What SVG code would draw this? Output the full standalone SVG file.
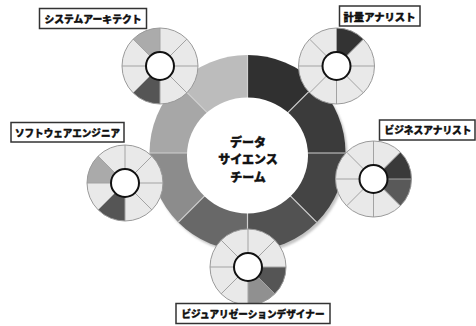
<svg xmlns="http://www.w3.org/2000/svg" xmlns:xlink="http://www.w3.org/1999/xlink" width="476" height="326" viewBox="0 0 476 326">
<style>
.lbl rect{fill:#fff;stroke:#333;stroke-width:1.5}
.lbl text{font-family:"Noto Sans CJK JP","Noto Sans",sans-serif;font-weight:900;font-size:10px;fill:#111;stroke:#111;stroke-width:0.35;text-anchor:middle}
.ctr{font-family:"Noto Sans CJK JP","Noto Sans",sans-serif;font-weight:900;font-size:12px;fill:#111;stroke:#111;stroke-width:0.4;text-anchor:middle}
.rdiv{stroke:#d0d0d0;stroke-width:1.2}
.sdiv{stroke:#a3a3a3;stroke-width:1}
</style>
<defs>
<filter id="blur" x="-10%" y="-10%" width="120%" height="120%"><feGaussianBlur stdDeviation="1.2"/></filter>
<circle id="sbase" r="38" fill="#e9e9e9"/>
<g id="sover">
<line class="sdiv" x1="0" y1="-38" x2="0" y2="38"/>
<line class="sdiv" x1="-38" y1="0" x2="38" y2="0"/>
<line class="sdiv" x1="-26.87" y1="-26.87" x2="26.87" y2="26.87"/>
<line class="sdiv" x1="26.87" y1="-26.87" x2="-26.87" y2="26.87"/>
<circle r="38" fill="none" stroke="#9a9a9a" stroke-width="1"/>
<circle r="14" fill="#fff" stroke="#111" stroke-width="2"/>
</g>
<path id="w0" d="M0,0 L0,-38 A38,38 0 0 1 26.87,-26.87Z"/>
<path id="w1" d="M0,0 L26.87,-26.87 A38,38 0 0 1 38,0Z"/>
<path id="w2" d="M0,0 L38,0 A38,38 0 0 1 26.87,26.87Z"/>
<path id="w3" d="M0,0 L26.87,26.87 A38,38 0 0 1 0,38Z"/>
<path id="w4" d="M0,0 L0,38 A38,38 0 0 1 -26.87,26.87Z"/>
<path id="w6" d="M0,0 L-38,0 A38,38 0 0 1 -26.87,-26.87Z"/>
<path id="w7" d="M0,0 L-26.87,-26.87 A38,38 0 0 1 0,-38Z"/>
</defs>

<g id="team">
<circle cx="249.5" cy="155.5" r="98" fill="#c4c4c4" filter="url(#blur)"/>
<path d="M247.5,153 L247.5,55 A98,98 0 0 1 316.8,83.7Z" fill="#303030"/>
<path d="M247.5,153 L316.8,83.7 A98,98 0 0 1 345.5,153Z" fill="#3b3b3b"/>
<path d="M247.5,153 L345.5,153 A98,98 0 0 1 316.8,222.3Z" fill="#444"/>
<path d="M247.5,153 L316.8,222.3 A98,98 0 0 1 247.5,251Z" fill="#525252"/>
<path d="M247.5,153 L247.5,251 A98,98 0 0 1 178.2,222.3Z" fill="#686868"/>
<path d="M247.5,153 L178.2,222.3 A98,98 0 0 1 149.5,153Z" fill="#8c8c8c"/>
<path d="M247.5,153 L149.5,153 A98,98 0 0 1 178.2,83.7Z" fill="#a7a7a7"/>
<path d="M247.5,153 L178.2,83.7 A98,98 0 0 1 247.5,55Z" fill="#bcbcbc"/>
<line class="rdiv" x1="247.5" y1="55" x2="247.5" y2="251"/>
<line class="rdiv" x1="149.5" y1="153" x2="345.5" y2="153"/>
<line class="rdiv" x1="178.2" y1="83.7" x2="316.8" y2="222.3"/>
<line class="rdiv" x1="316.8" y1="83.7" x2="178.2" y2="222.3"/>
<ellipse cx="247.5" cy="155.5" rx="60.5" ry="58" fill="#fff"/>
<text class="ctr" x="248" y="146.5">データ</text>
<text class="ctr" x="248" y="164">サイエンス</text>
<text class="ctr" x="248" y="181.5">チーム</text>
</g>

<g id="connectors"></g>

<g id="architect">
<g transform="translate(160,66)">
<use href="#sbase"/>
<use href="#w7" fill="#ababab"/>
<use href="#w4" fill="#555"/>
<use href="#sover"/>
</g>
<g class="lbl"><rect x="39.5" y="8.5" width="107" height="20"/><text x="93" y="22.5" textLength="97" lengthAdjust="spacingAndGlyphs">システムアーキテクト</text></g>
</g>

<g id="quant">
<g transform="translate(336.5,66)">
<use href="#sbase"/>
<use href="#w0" fill="#333"/>
<use href="#sover"/>
</g>
<g class="lbl"><rect x="339.5" y="6" width="80.5" height="20"/><text x="379.5" y="20.5" textLength="72" lengthAdjust="spacingAndGlyphs">計量アナリスト</text></g>
</g>

<g id="software">
<g transform="translate(125,183)">
<use href="#sbase"/>
<use href="#w6" fill="#aaa"/>
<use href="#w4" fill="#555"/>
<use href="#sover"/>
</g>
<g class="lbl"><rect x="11" y="122.5" width="113" height="19.5"/><text x="67.5" y="136.8" textLength="105" lengthAdjust="spacingAndGlyphs">ソフトウェアエンジニア</text></g>
</g>

<g id="business">
<g transform="translate(373.5,179)">
<use href="#sbase"/>
<use href="#w1" fill="#3a3a3a"/>
<use href="#w2" fill="#595959"/>
<use href="#sover"/>
</g>
<g class="lbl"><rect x="379.5" y="120" width="95.5" height="20"/><text x="428" y="134.3" textLength="87" lengthAdjust="spacingAndGlyphs">ビジネスアナリスト</text></g>
</g>

<g id="visualization">
<g transform="translate(248,267)">
<use href="#sbase"/>
<use href="#w2" fill="#555"/>
<use href="#w3" fill="#909090"/>
<use href="#sover"/>
</g>
<g class="lbl"><rect x="176" y="303.5" width="154" height="20"/><text x="253" y="318" textLength="143" lengthAdjust="spacingAndGlyphs">ビジュアリゼーションデザイナー</text></g>
</g>
</svg>
